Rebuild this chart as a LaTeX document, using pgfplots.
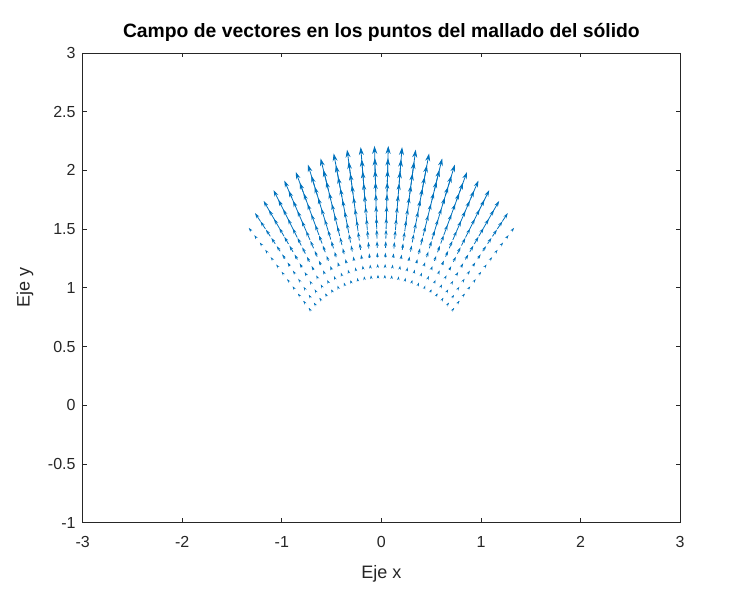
\documentclass[border=0pt]{standalone}
\usepackage{pgfplots}
\pgfplotsset{compat=1.18}
\usepackage{fontspec}
\setmainfont{Liberation Sans}
\usetikzlibrary{arrows.meta}
\definecolor{matblue}{RGB}{0,114,189}
\definecolor{axgray}{RGB}{38,38,38}
\begin{document}
\begin{tikzpicture}
\useasboundingbox (0,0) rectangle (552pt,450pt);
\begin{axis}[
  at={(62pt,58pt)}, anchor=south west,
  scale only axis, width=448.1pt, height=352.3pt,
  xmin=-3, xmax=3, ymin=-1, ymax=3,
  xtick={-3,-2,-1,0,1,2,3},
  xticklabels={-3,-2,-1,0,1,2,3},
  ytick={-1,-0.5,0,0.5,1,1.5,2,2.5,3},
  yticklabels={-1,-0.5,0,0.5,1,1.5,2,2.5,3},
  tick align=inside, major tick length=3.4pt,
  axis line style={draw=axgray, line width=0.5pt},
  every tick/.style={draw=axgray, line width=0.5pt},
  ticklabel style={font=\fontsize{12}{14}\selectfont, text=axgray},
  xticklabel style={anchor=base, yshift=-19pt},
  yticklabel style={anchor=east, xshift=-1.8pt},
  title={Campo de vectores en los puntos del mallado del sólido},
  title style={at={(axis description cs:0.5,1)}, anchor=base, yshift=5.3pt, font=\bfseries\fontsize{14.5}{17}\selectfont, text=black},
  xlabel={Eje x}, ylabel={Eje y},
  every axis x label/.style={at={(axis description cs:0.5,0)}, anchor=base, yshift=-42.2pt, font=\fontsize{13.5}{16}\selectfont, text=axgray},
  every axis y label/.style={at={(axis description cs:-0.0966,0.5)}, anchor=center, rotate=90, font=\fontsize{13.5}{16}\selectfont, text=axgray},
]
\addplot[
  color=matblue, line width=0.6pt,
  point meta={sqrt((\thisrow{u})^2+(\thisrow{v})^2)},
  quiver={u=\thisrow{u}, v=\thisrow{v},
    every arrow/.append style={-{Stealth[length=6pt,width=3.8pt,scale={0.45+0.55*\pgfplotspointmetatransformed/1000}]}}},
] table {
x y u v
0.0345 1.0995 0.00036 0.01148
0.0371 1.1794 0.00075 0.02377
0.0396 1.2594 0.00125 0.03968
0.0421 1.3393 0.00180 0.05738
0.0446 1.4193 0.00240 0.07628
0.0471 1.4993 0.00302 0.09617
0.0496 1.5792 0.00367 0.11688
0.0521 1.6592 0.00434 0.13828
0.0546 1.7391 0.00504 0.16035
0.0571 1.8191 0.00575 0.18295
0.0597 1.8991 0.00647 0.20605
0.0622 1.9790 0.00721 0.22963
-0.0345 1.0995 -0.00036 0.01148
-0.0371 1.1794 -0.00075 0.02377
-0.0396 1.2594 -0.00125 0.03968
-0.0421 1.3393 -0.00180 0.05738
-0.0446 1.4193 -0.00240 0.07628
-0.0471 1.4993 -0.00302 0.09617
-0.0496 1.5792 -0.00367 0.11688
-0.0521 1.6592 -0.00434 0.13828
-0.0546 1.7391 -0.00504 0.16035
-0.0571 1.8191 -0.00575 0.18295
-0.0597 1.8991 -0.00647 0.20605
-0.0622 1.9790 -0.00721 0.22963
0.1035 1.0952 0.00107 0.01133
0.1110 1.1748 0.00222 0.02346
0.1186 1.2545 0.00370 0.03917
0.1261 1.3341 0.00535 0.05664
0.1336 1.4138 0.00712 0.07529
0.1412 1.4934 0.00897 0.09492
0.1487 1.5730 0.01090 0.11536
0.1562 1.6527 0.01290 0.13649
0.1637 1.7323 0.01496 0.15827
0.1713 1.8120 0.01707 0.18057
0.1788 1.8916 0.01922 0.20337
0.1863 1.9713 0.02142 0.22665
-0.1035 1.0952 -0.00107 0.01133
-0.1110 1.1748 -0.00222 0.02346
-0.1186 1.2545 -0.00370 0.03917
-0.1261 1.3341 -0.00535 0.05664
-0.1336 1.4138 -0.00712 0.07529
-0.1412 1.4934 -0.00897 0.09492
-0.1487 1.5730 -0.01090 0.11536
-0.1562 1.6527 -0.01290 0.13649
-0.1637 1.7323 -0.01496 0.15827
-0.1713 1.8120 -0.01707 0.18057
-0.1788 1.8916 -0.01922 0.20337
-0.1863 1.9713 -0.02142 0.22665
0.1720 1.0865 0.00175 0.01104
0.1846 1.1655 0.00362 0.02284
0.1971 1.2445 0.00604 0.03814
0.2096 1.3235 0.00873 0.05515
0.2221 1.4025 0.01161 0.07332
0.2346 1.4816 0.01464 0.09243
0.2471 1.5606 0.01779 0.11234
0.2596 1.6396 0.02105 0.13291
0.2721 1.7186 0.02440 0.15411
0.2846 1.7976 0.02784 0.17583
0.2972 1.8766 0.03136 0.19803
0.3097 1.9556 0.03495 0.22070
-0.1720 1.0865 -0.00175 0.01104
-0.1846 1.1655 -0.00362 0.02284
-0.1971 1.2445 -0.00604 0.03814
-0.2096 1.3235 -0.00873 0.05515
-0.2221 1.4025 -0.01161 0.07332
-0.2346 1.4816 -0.01464 0.09243
-0.2471 1.5606 -0.01779 0.11234
-0.2596 1.6396 -0.02105 0.13291
-0.2721 1.7186 -0.02440 0.15411
-0.2846 1.7976 -0.02784 0.17583
-0.2972 1.8766 -0.03136 0.19803
-0.3097 1.9556 -0.03495 0.22070
0.2399 1.0735 0.00237 0.01059
0.2574 1.1516 0.00490 0.02193
0.2748 1.2296 0.00818 0.03661
0.2923 1.3077 0.01183 0.05295
0.3097 1.3858 0.01573 0.07038
0.3272 1.4639 0.01983 0.08873
0.3446 1.5419 0.02410 0.10784
0.3620 1.6200 0.02851 0.12759
0.3795 1.6981 0.03306 0.14795
0.3969 1.7761 0.03772 0.16880
0.4144 1.8542 0.04249 0.19011
0.4318 1.9323 0.04735 0.21187
-0.2399 1.0735 -0.00237 0.01059
-0.2574 1.1516 -0.00490 0.02193
-0.2748 1.2296 -0.00818 0.03661
-0.2923 1.3077 -0.01183 0.05295
-0.3097 1.3858 -0.01573 0.07038
-0.3272 1.4639 -0.01983 0.08873
-0.3446 1.5419 -0.02410 0.10784
-0.3620 1.6200 -0.02851 0.12759
-0.3795 1.6981 -0.03306 0.14795
-0.3969 1.7761 -0.03772 0.16880
-0.4144 1.8542 -0.04249 0.19011
-0.4318 1.9323 -0.04735 0.21187
0.3069 1.0563 0.00291 0.01001
0.3292 1.1332 0.00602 0.02073
0.3515 1.2100 0.01005 0.03460
0.3739 1.2868 0.01454 0.05004
0.3962 1.3636 0.01933 0.06653
0.4185 1.4405 0.02437 0.08387
0.4408 1.5173 0.02962 0.10193
0.4631 1.5941 0.03504 0.12060
0.4855 1.6709 0.04063 0.13984
0.5078 1.7477 0.04635 0.15955
0.5301 1.8246 0.05221 0.17969
0.5524 1.9014 0.05818 0.20026
-0.3069 1.0563 -0.00291 0.01001
-0.3292 1.1332 -0.00602 0.02073
-0.3515 1.2100 -0.01005 0.03460
-0.3739 1.2868 -0.01454 0.05004
-0.3962 1.3636 -0.01933 0.06653
-0.4185 1.4405 -0.02437 0.08387
-0.4408 1.5173 -0.02962 0.10193
-0.4631 1.5941 -0.03504 0.12060
-0.4855 1.6709 -0.04063 0.13984
-0.5078 1.7477 -0.04635 0.15955
-0.5301 1.8246 -0.05221 0.17969
-0.5524 1.9014 -0.05818 0.20026
0.3726 1.0350 0.00335 0.00930
0.3997 1.1103 0.00693 0.01924
0.4268 1.1855 0.01157 0.03213
0.4539 1.2608 0.01673 0.04647
0.4810 1.3361 0.02224 0.06177
0.5081 1.4114 0.02803 0.07787
0.5351 1.4866 0.03407 0.09464
0.5622 1.5619 0.04031 0.11197
0.5893 1.6372 0.04674 0.12984
0.6164 1.7124 0.05333 0.14814
0.6435 1.7877 0.06006 0.16684
0.6706 1.8630 0.06693 0.18594
-0.3726 1.0350 -0.00335 0.00930
-0.3997 1.1103 -0.00693 0.01924
-0.4268 1.1855 -0.01157 0.03213
-0.4539 1.2608 -0.01673 0.04647
-0.4810 1.3361 -0.02224 0.06177
-0.5081 1.4114 -0.02803 0.07787
-0.5351 1.4866 -0.03407 0.09464
-0.5622 1.5619 -0.04031 0.11197
-0.5893 1.6372 -0.04674 0.12984
-0.6164 1.7124 -0.05333 0.14814
-0.6435 1.7877 -0.06006 0.16684
-0.6706 1.8630 -0.06693 0.18594
0.4368 1.0096 0.00366 0.00845
0.4686 1.0830 0.00757 0.01749
0.5003 1.1564 0.01263 0.02920
0.5321 1.2299 0.01827 0.04223
0.5639 1.3033 0.02429 0.05614
0.5957 1.3767 0.03062 0.07077
0.6274 1.4501 0.03722 0.08602
0.6592 1.5235 0.04403 0.10177
0.6910 1.5970 0.05106 0.11801
0.7227 1.6704 0.05825 0.13463
0.7545 1.7438 0.06561 0.15163
0.7863 1.8172 0.07311 0.16899
-0.4368 1.0096 -0.00366 0.00845
-0.4686 1.0830 -0.00757 0.01749
-0.5003 1.1564 -0.01263 0.02920
-0.5321 1.2299 -0.01827 0.04223
-0.5639 1.3033 -0.02429 0.05614
-0.5957 1.3767 -0.03062 0.07077
-0.6274 1.4501 -0.03722 0.08602
-0.6592 1.5235 -0.04403 0.10177
-0.6910 1.5970 -0.05106 0.11801
-0.7227 1.6704 -0.05825 0.13463
-0.7545 1.7438 -0.06561 0.15163
-0.7863 1.8172 -0.07311 0.16899
0.4994 0.9801 0.00381 0.00747
0.5357 1.0514 0.00788 0.01547
0.5720 1.1227 0.01316 0.02583
0.6084 1.1939 0.01903 0.03735
0.6447 1.2652 0.02530 0.04965
0.6810 1.3365 0.03190 0.06260
0.7173 1.4078 0.03877 0.07608
0.7536 1.4791 0.04587 0.09001
0.7900 1.5503 0.05318 0.10437
0.8263 1.6216 0.06068 0.11908
0.8626 1.6929 0.06834 0.13412
0.8989 1.7642 0.07616 0.14947
-0.4994 0.9801 -0.00381 0.00747
-0.5357 1.0514 -0.00788 0.01547
-0.5720 1.1227 -0.01316 0.02583
-0.6084 1.1939 -0.01903 0.03735
-0.6447 1.2652 -0.02530 0.04965
-0.6810 1.3365 -0.03190 0.06260
-0.7173 1.4078 -0.03877 0.07608
-0.7536 1.4791 -0.04587 0.09001
-0.7900 1.5503 -0.05318 0.10437
-0.8263 1.6216 -0.06068 0.11908
-0.8626 1.6929 -0.06834 0.13412
-0.8989 1.7642 -0.07616 0.14947
0.5599 0.9468 0.00376 0.00637
0.6006 1.0156 0.00779 0.01318
0.6413 1.0845 0.01301 0.02200
0.6821 1.1533 0.01881 0.03181
0.7228 1.2222 0.02501 0.04229
0.7635 1.2911 0.03153 0.05332
0.8042 1.3599 0.03832 0.06480
0.8449 1.4288 0.04534 0.07667
0.8857 1.4976 0.05257 0.08890
0.9264 1.5665 0.05998 0.10143
0.9671 1.6353 0.06755 0.11424
1.0078 1.7042 0.07529 0.12731
-0.5599 0.9468 -0.00376 0.00637
-0.6006 1.0156 -0.00779 0.01318
-0.6413 1.0845 -0.01301 0.02200
-0.6821 1.1533 -0.01881 0.03181
-0.7228 1.2222 -0.02501 0.04229
-0.7635 1.2911 -0.03153 0.05332
-0.8042 1.3599 -0.03832 0.06480
-0.8449 1.4288 -0.04534 0.07667
-0.8857 1.4976 -0.05257 0.08890
-0.9264 1.5665 -0.05998 0.10143
-0.9671 1.6353 -0.06755 0.11424
-1.0078 1.7042 -0.07529 0.12731
0.6183 0.9098 0.00347 0.00510
0.6633 0.9760 0.00718 0.01056
0.7082 1.0421 0.01198 0.01763
0.7532 1.1083 0.01733 0.02550
0.7982 1.1745 0.02303 0.03389
0.8432 1.2407 0.02904 0.04273
0.8881 1.3068 0.03529 0.05193
0.9331 1.3730 0.04175 0.06144
0.9781 1.4392 0.04842 0.07124
1.0230 1.5053 0.05524 0.08128
1.0680 1.5715 0.06221 0.09154
1.1130 1.6377 0.06934 0.10202
-0.6183 0.9098 -0.00347 0.00510
-0.6633 0.9760 -0.00718 0.01056
-0.7082 1.0421 -0.01198 0.01763
-0.7532 1.1083 -0.01733 0.02550
-0.7982 1.1745 -0.02303 0.03389
-0.8432 1.2407 -0.02904 0.04273
-0.8881 1.3068 -0.03529 0.05193
-0.9331 1.3730 -0.04175 0.06144
-0.9781 1.4392 -0.04842 0.07124
-1.0230 1.5053 -0.05524 0.08128
-1.0680 1.5715 -0.06221 0.09154
-1.1130 1.6377 -0.06934 0.10202
0.6742 0.8692 0.00279 0.00359
0.7232 0.9324 0.00577 0.00744
0.7723 0.9957 0.00963 0.01242
0.8213 1.0589 0.01393 0.01796
0.8703 1.1221 0.01852 0.02388
0.9194 1.1853 0.02335 0.03010
0.9684 1.2485 0.02838 0.03659
1.0174 1.3117 0.03357 0.04329
1.0664 1.3749 0.03893 0.05019
1.1155 1.4382 0.04442 0.05727
1.1645 1.5014 0.05003 0.06450
1.2135 1.5646 0.05575 0.07188
-0.6742 0.8692 -0.00279 0.00359
-0.7232 0.9324 -0.00577 0.00744
-0.7723 0.9957 -0.00963 0.01242
-0.8213 1.0589 -0.01393 0.01796
-0.8703 1.1221 -0.01852 0.02388
-0.9194 1.1853 -0.02335 0.03010
-0.9684 1.2485 -0.02838 0.03659
-1.0174 1.3117 -0.03357 0.04329
-1.0664 1.3749 -0.03893 0.05019
-1.1155 1.4382 -0.04442 0.05727
-1.1645 1.5014 -0.05003 0.06450
-1.2135 1.5646 -0.05575 0.07188
0.7274 0.8251 0.00114 0.00129
0.7803 0.8851 0.00236 0.00267
0.8332 0.9451 0.00394 0.00447
0.8861 1.0051 0.00569 0.00646
0.9390 1.0651 0.00757 0.00859
0.9920 1.1252 0.00954 0.01082
1.0449 1.1852 0.01160 0.01315
1.0978 1.2452 0.01372 0.01556
1.1507 1.3052 0.01591 0.01805
1.2036 1.3652 0.01815 0.02059
1.2565 1.4252 0.02044 0.02319
1.3094 1.4852 0.02278 0.02584
-0.7274 0.8251 -0.00114 0.00129
-0.7803 0.8851 -0.00236 0.00267
-0.8332 0.9451 -0.00394 0.00447
-0.8861 1.0051 -0.00569 0.00646
-0.9390 1.0651 -0.00757 0.00859
-0.9920 1.1252 -0.00954 0.01082
-1.0449 1.1852 -0.01160 0.01315
-1.0978 1.2452 -0.01372 0.01556
-1.1507 1.3052 -0.01591 0.01805
-1.2036 1.3652 -0.01815 0.02059
-1.2565 1.4252 -0.02044 0.02319
-1.3094 1.4852 -0.02278 0.02584
};
\end{axis}
\end{tikzpicture}
\end{document}
